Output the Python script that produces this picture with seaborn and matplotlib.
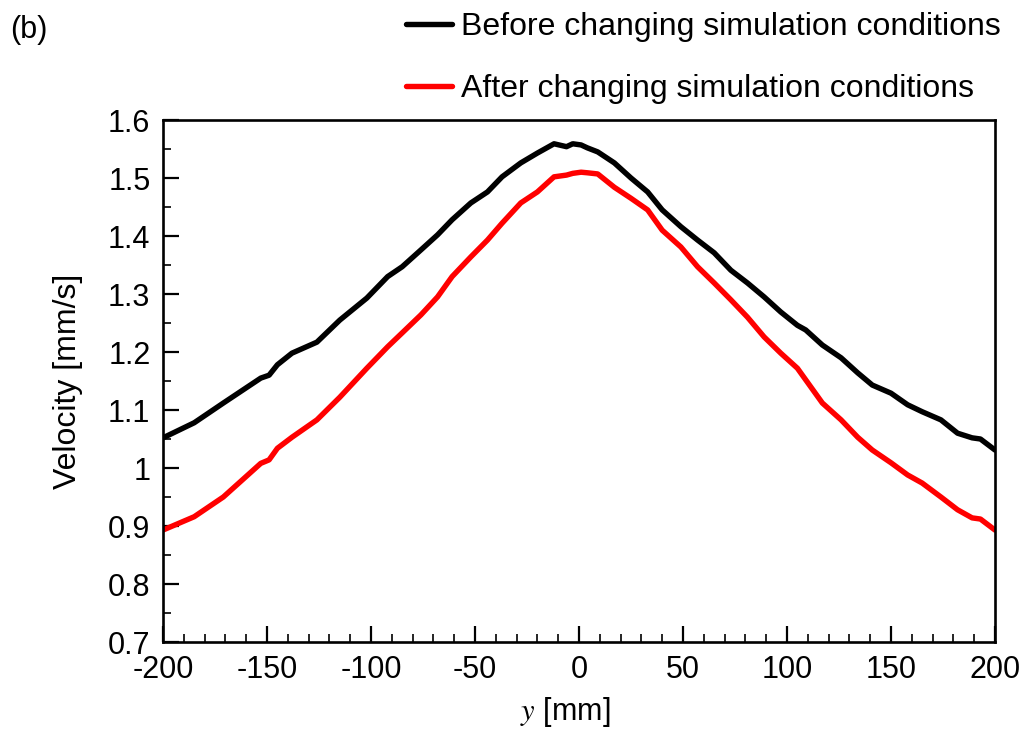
import numpy as np
import pandas as pd
import matplotlib
matplotlib.use("Agg")
import matplotlib.pyplot as plt
import seaborn as sns
from matplotlib import font_manager

# Lateral position y [mm]
y_pos = [-200, -185, -171, -153, -149, -145, -138, -126, -115, -102, -92, -85,
         -76, -68, -61, -52, -44, -37, -28, -20, -12, -6, -3, 1, 4, 9, 17, 25,
         33, 40, 49, 57, 65, 73, 81, 89, 97, 105, 109, 117, 126, 134, 141, 150,
         158, 165, 174, 182, 189, 193, 200]

# Velocity [mm/s] before changing the simulation conditions
vel_before = [1.052, 1.078, 1.112, 1.155, 1.160, 1.178, 1.198, 1.217, 1.255,
              1.293, 1.330, 1.347, 1.376, 1.402, 1.428, 1.457, 1.476, 1.502,
              1.526, 1.543, 1.559, 1.554, 1.559, 1.557, 1.552, 1.545, 1.526,
              1.500, 1.476, 1.445, 1.416, 1.393, 1.371, 1.341, 1.319, 1.295,
              1.269, 1.246, 1.238, 1.212, 1.190, 1.164, 1.143, 1.129, 1.109,
              1.097, 1.083, 1.060, 1.052, 1.050, 1.031]

# Velocity [mm/s] after changing the simulation conditions
vel_after = [0.893, 0.916, 0.950, 1.008, 1.014, 1.034, 1.053, 1.083, 1.122,
             1.172, 1.209, 1.233, 1.264, 1.295, 1.330, 1.364, 1.393, 1.422,
             1.457, 1.476, 1.502, 1.505, 1.508, 1.510, 1.509, 1.507, 1.484,
             1.465, 1.445, 1.410, 1.381, 1.347, 1.319, 1.290, 1.260, 1.226,
             1.198, 1.172, 1.152, 1.112, 1.083, 1.053, 1.031, 1.009, 0.988,
             0.974, 0.950, 0.928, 0.914, 0.912, 0.893]

labels = ["Before changing simulation conditions",
          "After changing simulation conditions"]
colors = ["#000000", "#ff0000"]

x_ticks = [-200, -150, -100, -50, 0, 50, 100, 150, 200]
y_ticks = [0.7, 0.8, 0.9, 1.0, 1.1, 1.2, 1.3, 1.4, 1.5, 1.6]
y_tick_labels = ["0.7", "0.8", "0.9", "1", "1.1", "1.2", "1.3", "1.4", "1.5", "1.6"]

df = pd.DataFrame({
    "y": y_pos * 2,
    "v": vel_before + vel_after,
    "case": [labels[0]] * len(y_pos) + [labels[1]] * len(y_pos),
})

sns.set_style("ticks")
plt.rcParams["font.family"] = ["Liberation Sans", "DejaVu Sans"]
plt.rcParams["mathtext.fontset"] = "stix"
plt.rcParams["text.color"] = "black"
plt.rcParams["axes.labelcolor"] = "black"
plt.rcParams["xtick.color"] = "black"
plt.rcParams["ytick.color"] = "black"

available = {f.name for f in font_manager.fontManager.ttflist}
narrow = "Liberation Sans Narrow" if "Liberation Sans Narrow" in available else "Liberation Sans"

fig = plt.figure(figsize=(10.25, 7.53), dpi=100)
ax = fig.add_axes([163 / 1025, 1 - 642 / 753, (995 - 163) / 1025, (642 - 120) / 753])

sns.lineplot(data=df, x="y", y="v", hue="case", palette=colors,
             hue_order=labels, linewidth=3.9, ax=ax, legend=False,
             estimator=None, sort=False)

ax.set_xlim(-200, 200)
ax.set_ylim(0.7, 1.6)
ax.set_xticks(x_ticks)
ax.set_xticklabels([str(t) for t in x_ticks])
ax.set_yticks(y_ticks)
ax.set_yticklabels(y_tick_labels)
ax.set_xticks(np.arange(-200, 201, 10), minor=True)
ax.set_yticks(np.arange(0.7, 1.6001, 0.05), minor=True)

for side in ["top", "right", "left", "bottom"]:
    ax.spines[side].set_visible(True)
    ax.spines[side].set_linewidth(1.9)
    ax.spines[side].set_color("black")

ax.tick_params(which="major", direction="in", length=11.5, width=1.6,
               labelsize=22, pad=9, top=False, right=False)
ax.tick_params(which="minor", direction="in", length=5.5, width=1.2,
               top=False, right=False)

ax.set_xlabel(r"$y$ [mm]", fontsize=22)
ax.xaxis.set_label_coords(0.484, -0.102)
ax.set_ylabel("Velocity [mm/s]", fontsize=23, family=[narrow, "DejaVu Sans"],
              labelpad=18)

handles = [plt.Line2D([], [], color=c, linewidth=3.9) for c in colors]
fig.legend(handles, labels, loc="upper left", bbox_to_anchor=(393 / 1025, 1 + 1 / 753),
           frameon=False, fontsize=23, handlelength=1.45, handletextpad=0.28,
           labelspacing=1.0, borderaxespad=0)

fig.text(10 / 1025, 1 - 30 / 753, "(b)", fontsize=22, va="center", ha="left")

fig.savefig("out.png", dpi=100, facecolor="white")
